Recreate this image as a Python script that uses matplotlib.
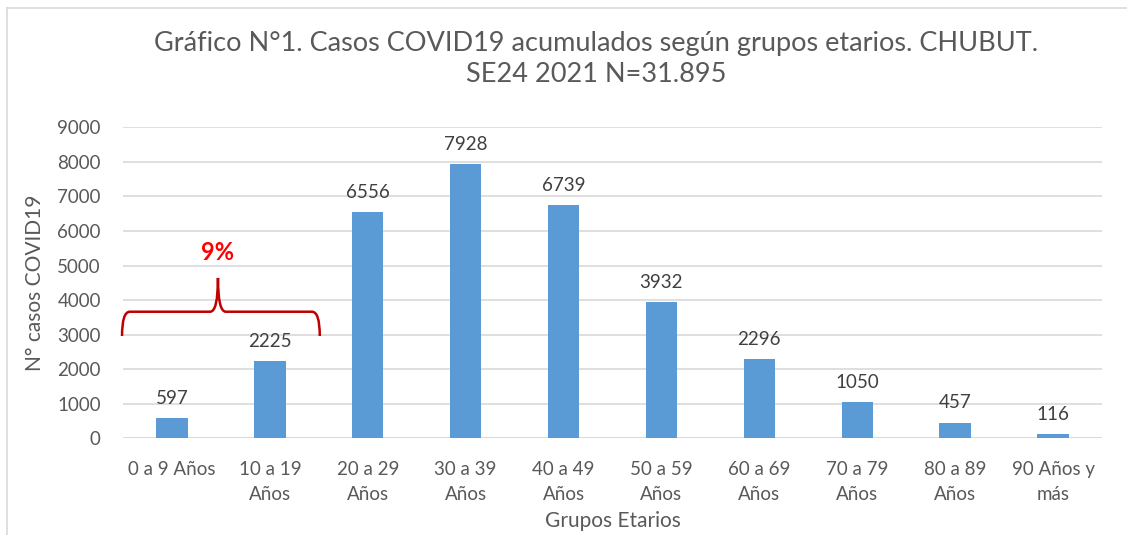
import matplotlib.pyplot as plt
import matplotlib as mpl
from matplotlib.path import Path
from matplotlib.patches import PathPatch
from matplotlib.lines import Line2D

mpl.rcParams.update({
    'font.family': ['Lato', 'DejaVu Sans'],
    'font.size': 12,
})

grupos = ["0 a 9 Años", "10 a 19\nAños", "20 a 29\nAños", "30 a 39\nAños",
          "40 a 49\nAños", "50 a 59\nAños", "60 a 69\nAños", "70 a 79\nAños",
          "80 a 89\nAños", "90 Años y\nmás"]
casos = [597, 2225, 6556, 7928, 6739, 3932, 2296, 1050, 457, 116]
yticks = list(range(0, 10000, 1000))

GRAY = '#595959'
BAR = '#5b9bd5'
RED = '#c00000'

W, H = 1127, 535
fig = plt.figure(figsize=(W / 100, H / 100), dpi=100)
ax = fig.add_axes([123 / W, 1 - 438.3 / H, (1102 - 123) / W, (438.3 - 127.3) / H])

x = range(len(grupos))
ax.bar(x, casos, width=0.32, color=BAR, zorder=3)
for i, v in enumerate(casos):
    ax.annotate(str(v), (i, v), xytext=(0, 8), textcoords='offset points',
                ha='center', va='bottom', fontsize=13.5, color='#404040')

ax.set_xlim(-0.5, len(grupos) - 0.5)
ax.set_ylim(0, 9000)
ax.set_yticks(yticks)
ax.set_xticks(list(x))
ax.set_xticklabels(grupos, fontsize=13.5, color=GRAY, linespacing=1.6)
ax.tick_params(axis='y', labelsize=13.5, labelcolor=GRAY, length=0, pad=16)
ax.tick_params(axis='x', length=0, pad=16)
ax.yaxis.grid(True, color='#d9d9d9', linewidth=1.2, zorder=0)
for s in ax.spines.values():
    s.set_visible(False)
ax.axhline(0, color='#d9d9d9', linewidth=1.2, zorder=2)

ax.set_ylabel("N° casos COVID19", fontsize=15, color=GRAY, labelpad=9)
ax.set_xlabel("Grupos Etarios", fontsize=15, color=GRAY, labelpad=6)

fig.text(596 / W, 1 - 43 / H, "Gráfico N°1. Casos COVID19 acumulados según grupos etarios. CHUBUT.",
         ha='center', va='center', fontsize=19.5, color=GRAY)
fig.text(596 / W, 1 - 75 / H, "SE24 2021 N=31.895",
         ha='center', va='center', fontsize=19.5, color=GRAY)

# curly brace over the first two groups
xl, xr, xc = -0.51, 1.51, 0.47
yb, yh, yt = 2960, 3663, 4640
dx = 0.08
verts = [(xl, yb), (xl, yh), (xl + dx, yh),
         (xc - dx, yh), (xc, yh), (xc, yt),
         (xc, yh), (xc + dx, yh),
         (xr - dx, yh), (xr, yh), (xr, yb)]
codes = [Path.MOVETO, Path.CURVE3, Path.CURVE3,
         Path.LINETO, Path.CURVE3, Path.CURVE3,
         Path.CURVE3, Path.CURVE3,
         Path.LINETO, Path.CURVE3, Path.CURVE3]
ax.add_patch(PathPatch(Path(verts, codes), fill=False, edgecolor=RED,
                       linewidth=1.8, zorder=4, clip_on=False))
ax.text(xc, 5390, "9%", ha='center', va='center', fontsize=17,
        fontweight='bold', color='#ff0000', zorder=5)

# figure frame
fig.add_artist(Line2D([7 / W, 1], [1 - 8 / H, 1 - 8 / H], color='#d9d9d9', linewidth=1.2))
fig.add_artist(Line2D([7 / W, 7 / W], [0, 1 - 8 / H], color='#d9d9d9', linewidth=1.2))

fig.savefig('out.png', dpi=100)
